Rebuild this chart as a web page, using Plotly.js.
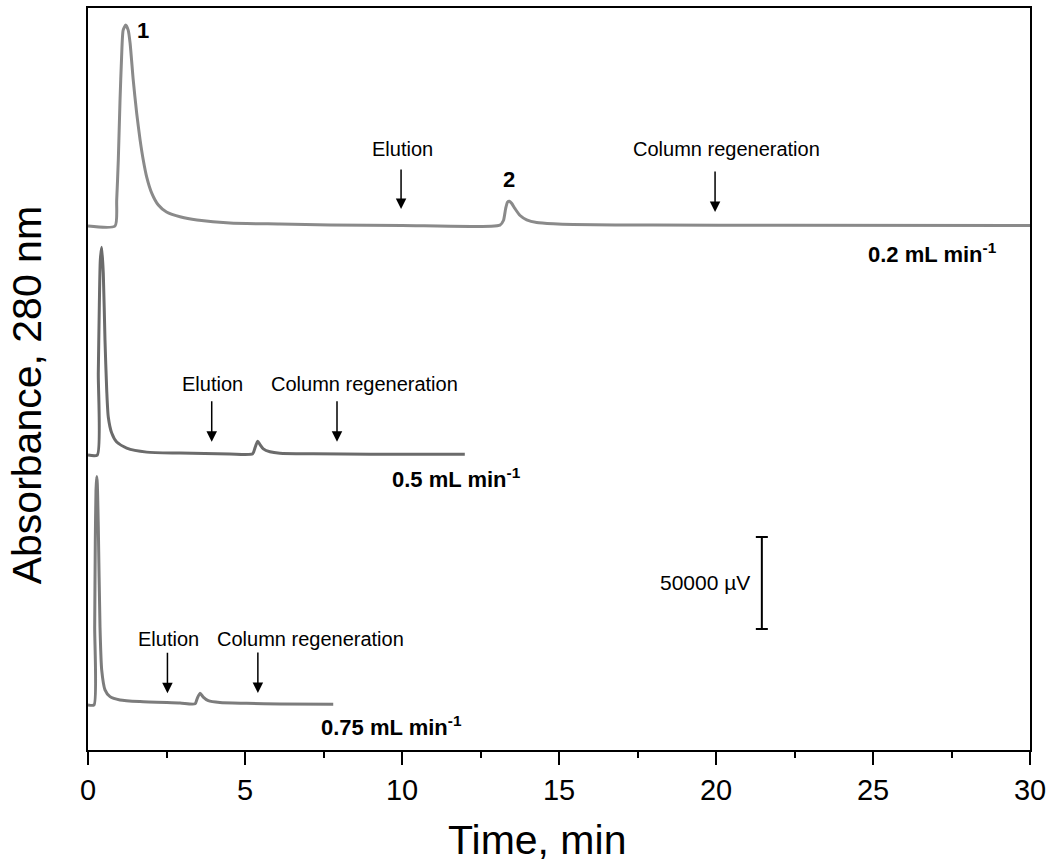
<!DOCTYPE html>
<html>
<head>
<meta charset="utf-8">
<script src="https://cdn.plot.ly/plotly-3.0.1.min.js"></script>
<style>html,body{margin:0;padding:0;background:#fff;}</style>
</head>
<body>
<div id="chart" style="width:1050px;height:867px;"></div>
<script>
// ---- Data (signal in mV = 1000 µV, above each trace's own baseline) ----
// 0.2 mL/min
const time_02 = [0, 0.86, 0.914, 0.965, 1.02, 1.07, 1.12, 1.20, 1.28, 1.34, 1.44, 1.55, 1.66, 1.76, 1.87, 2.03, 2.24, 2.50, 2.96, 3.47, 4.52, 6.11, 7.71, 10.0, 13.12, 13.23, 13.30, 13.36, 13.42, 13.49, 13.60, 13.76, 13.97, 14.29, 14.82, 15.45, 18.0, 22.0, 30.0];
const sig_02  = [0, 0, 14.1, 35.9, 68.5, 91.9, 106.5, 109.2, 106.5, 99.5, 79.4, 61.4, 46.7, 35.9, 26.6, 17.9, 11.4, 7.6, 4.9, 3.3, 1.6, 1.1, 0.6, 0.3, 0.5, 3.0, 9.4, 13.0, 13.5, 12.4, 9.4, 5.7, 3.4, 1.9, 1.2, 0.8, 0.5, 0.4, 0.3];
// 0.5 mL/min
const time_05 = [0, 0.296, 0.328, 0.36, 0.392, 0.436, 0.487, 0.541, 0.596, 0.646, 0.755, 0.914, 1.232, 1.87, 2.93, 4.52, 5.245, 5.318, 5.404, 5.478, 5.583, 5.796, 6.11, 7.17, 9.0, 12.0];
const sig_05  = [0, 0, 44.6, 80.4, 106, 112.9, 98.9, 62.5, 35.3, 20.7, 12.0, 7.1, 3.8, 1.6, 1.1, 0.6, 0.7, 3.9, 7.5, 5.7, 3.4, 1.8, 1.0, 0.7, 0.5, 0.5];
// 0.75 mL/min
const time_075 = [0, 0.191, 0.213, 0.232, 0.255, 0.277, 0.296, 0.328, 0.382, 0.436, 0.541, 0.701, 1.019, 1.656, 2.93, 3.41, 3.48, 3.57, 3.67, 3.83, 4.20, 5.05, 6.11, 7.81];
const sig_075  = [0, 0, 42.6, 87.9, 116.9, 124.1, 120.5, 96.9, 42.6, 19.0, 8.2, 4.5, 2.7, 1.8, 1.0, 0.6, 3.6, 6.4, 4.2, 2.3, 1.3, 0.9, 0.5, 0.4];

// vertical offsets of the stacked chromatograms (mV)
const offsets = [284.8, 160.3, 24.5];
const flowLabels = ["0.2 mL min<sup>-1</sup>", "0.5 mL min<sup>-1</sup>", "0.75 mL min<sup>-1</sup>"];
const lineColors = ["#8a8a8a", "#6b6b6b", "#7c7c7c"];
const scaleBar_mV = 50;            // 50000 µV
const scaleBarLabel = "50000 µV";
const xTickVals = [0, 5, 10, 15, 20, 25, 30];

const FONT = "Liberation Sans, Arial, sans-serif";

function shift(arr, off) { return arr.map(v => v + off); }
const lineStyle = (c) => ({color: c, width: 3, shape: 'spline', smoothing: 0.6});

const traces = [
  {x: time_02,  y: shift(sig_02,  offsets[0]), mode: 'lines', line: lineStyle(lineColors[0]), hoverinfo: 'skip'},
  {x: time_05,  y: shift(sig_05,  offsets[1]), mode: 'lines', line: lineStyle(lineColors[1]), hoverinfo: 'skip'},
  {x: time_075, y: shift(sig_075, offsets[2]), mode: 'lines', line: lineStyle(lineColors[2]), hoverinfo: 'skip'},
  // scale bar
  {x: [21.46], y: [90.8], mode: 'markers', marker: {opacity: 0, size: 1},
   error_y: {type: 'data', array: [scaleBar_mV / 2], symmetric: true, width: 6, thickness: 2, color: '#000'},
   hoverinfo: 'skip'}
];

function txt(x, y, text, size, opts) {
  return Object.assign({x: x, y: y, xref: 'x', yref: 'y', text: text, showarrow: false,
    font: {family: FONT, size: size, color: '#000'}, xanchor: 'center', yanchor: 'middle'}, opts || {});
}
function arrow(x, y, len) {
  return {x: x, y: y, xref: 'x', yref: 'y', text: '', showarrow: true, ax: 0, ay: -len,
    axref: 'pixel', ayref: 'pixel', arrowhead: 2, arrowsize: 1.4, arrowwidth: 1.5, arrowcolor: '#000'};
}

const annotations = [
  txt(1.75, 391.3, "<b>1</b>", 22),
  txt(13.41, 310.3, "<b>2</b>", 22),
  txt(10.0, 326.4, "Elution", 20),
  txt(20.35, 326.4, "Column regeneration", 20),
  arrow(9.97, 294.0, 41),
  arrow(19.97, 292.4, 42),
  txt(3.98, 199.2, "Elution", 20),
  txt(8.82, 199.2, "Column regeneration", 20),
  arrow(3.94, 167.6, 42),
  arrow(7.93, 167.6, 42),
  txt(2.55, 60.6, "Elution", 20),
  txt(7.10, 60.6, "Column regeneration", 20),
  arrow(2.53, 30.8, 42),
  arrow(5.41, 31.0, 42),
  txt(26.91, 270.1, "<b>" + flowLabels[0] + "</b>", 22),
  txt(11.72, 147.8, "<b>" + flowLabels[1] + "</b>", 22),
  txt(9.68, 13.0, "<b>" + flowLabels[2] + "</b>", 22),
  txt(21.15, 90.8, scaleBarLabel, 21, {xanchor: 'right'}),
  // axis titles
  {x: 0.4766, y: -0.1213, xref: 'paper', yref: 'paper', text: 'Time, min', showarrow: false,
   xanchor: 'center', yanchor: 'middle', font: {family: FONT, size: 41, color: '#000'}},
  {x: -0.0648, y: 0.478, xref: 'paper', yref: 'paper', text: 'Absorbance, 280 nm', showarrow: false,
   textangle: -90, xanchor: 'center', yanchor: 'middle', font: {family: FONT, size: 41, color: '#000'}}
];

const layout = {
  width: 1050, height: 867,
  margin: {l: 88, r: 20, t: 8, b: 117, pad: 0},
  paper_bgcolor: '#fff', plot_bgcolor: '#fff',
  showlegend: false,
  font: {family: FONT, color: '#000'},
  xaxis: {
    range: [0, 30], tickvals: xTickVals, ticktext: xTickVals.map(String),
    ticks: 'outside', ticklen: 13, tickwidth: 2, tickcolor: '#000',
    minor: {dtick: 2.5, tick0: 0, ticks: 'outside', ticklen: 6, tickwidth: 2, tickcolor: '#000'},
    showline: true, mirror: true, linewidth: 2, linecolor: '#000',
    showgrid: false, zeroline: false,
    tickfont: {family: FONT, size: 29, color: '#000'}
  },
  yaxis: {
    range: [0, 403.3], showticklabels: false, ticks: '',
    showline: true, mirror: true, linewidth: 2, linecolor: '#000',
    showgrid: false, zeroline: false
  },
  annotations: annotations
};

Plotly.newPlot('chart', traces, layout, {displayModeBar: false, staticPlot: true});
</script>
</body>
</html>
